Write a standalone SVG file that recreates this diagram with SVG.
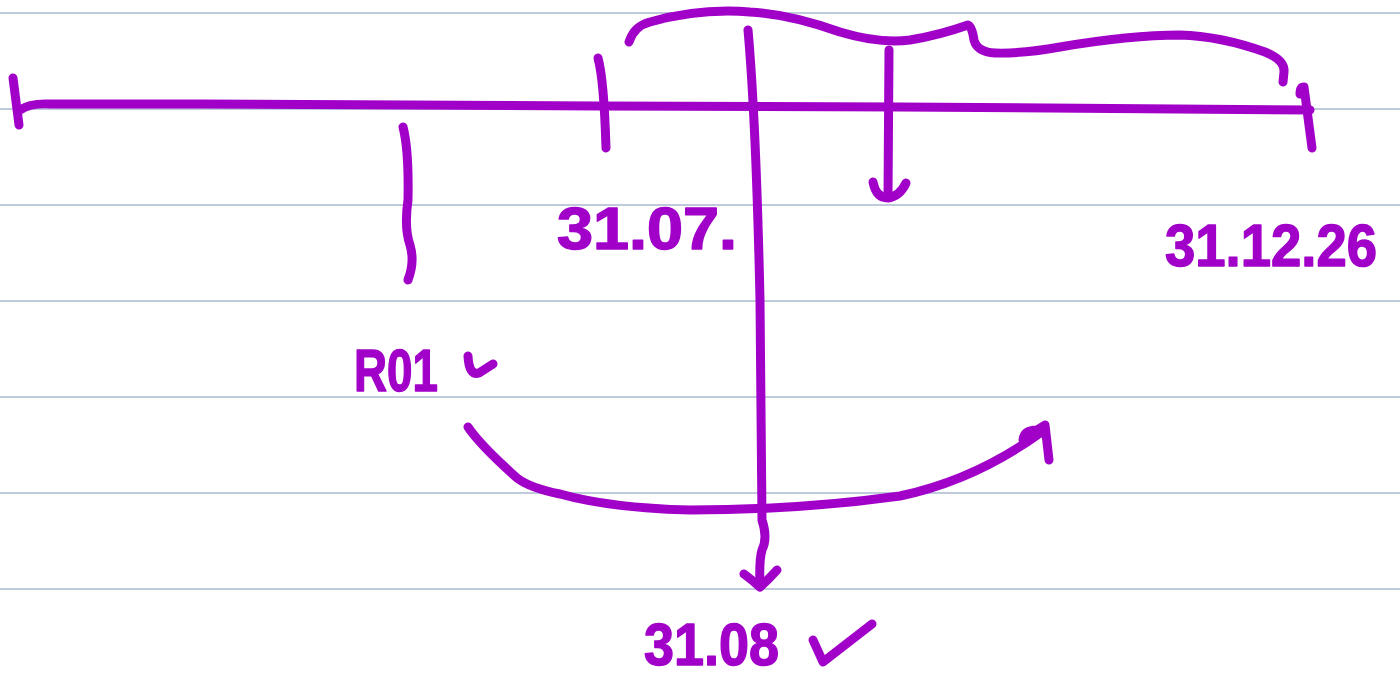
<svg xmlns="http://www.w3.org/2000/svg" width="1400" height="679" viewBox="0 0 1400 679">
  <style>
    .rule { stroke: #bfcadd; stroke-width: 2; }
    .ink { fill: none; stroke: #a100c8; stroke-width: 9; stroke-linecap: round; stroke-linejoin: round; }
    .hand { fill: #a100c8; stroke: #a100c8; stroke-width: 1.5; stroke-linejoin: round; font-family: "Liberation Sans", Arial, sans-serif; font-weight: bold; }
  </style>
  <rect width="1400" height="679" fill="#ffffff"/>

  <!-- ruled paper -->
  <g id="paper">
    <line class="rule" x1="0" y1="13" x2="1400" y2="13"/>
    <line class="rule" x1="0" y1="109" x2="1400" y2="109"/>
    <line class="rule" x1="0" y1="205" x2="1400" y2="205"/>
    <line class="rule" x1="0" y1="301" x2="1400" y2="301"/>
    <line class="rule" x1="0" y1="397" x2="1400" y2="397"/>
    <line class="rule" x1="0" y1="493" x2="1400" y2="493"/>
    <line class="rule" x1="0" y1="589" x2="1400" y2="589"/>
  </g>

  <!-- timeline and strokes -->
  <g id="connectors">
    <!-- main axis -->
    <path class="ink" d="M20,110 Q30,103 50,104 L200,104 L600,106 L900,107 L1310,110"/>
    <!-- start tick -->
    <path class="ink" d="M13,78 L19,125"/>
    <!-- tick at 31.07 -->
    <path class="ink" d="M598,58 Q604,80 606,148"/>
    <!-- end tick -->
    <path class="ink" d="M1300,94 Q1300,87 1304,87 L1312,148"/>
    <!-- brace over the second half -->
    <path class="ink" d="M629,42 Q634,26 650,22 Q700,8 750,12 Q790,14 840,32 Q880,44 910,40 Q940,35 968,25 Q972,26 974,40 Q977,52 995,53 Q1020,54 1060,47 Q1130,35 1180,35 Q1220,36 1265,52 Q1285,60 1284,72 L1283,82"/>
    <!-- squiggle under the axis -->
    <path class="ink" d="M403,127 Q409,150 408,200 Q404,228 410,245 Q415,262 408,280"/>
    <!-- long vertical arrow down to 31.08 -->
    <path class="ink" d="M748,30 Q756,120 760,300 L762,520 Q768,538 762,550 Q759,560 760,585"/>
    <path class="ink" d="M744,574 Q752,580 760,587 Q768,580 777,570"/>
    <!-- short arrow down -->
    <path class="ink" d="M889,50 L888,196"/>
    <path class="ink" d="M873,182 Q876,198 888,198 Q900,196 906,183"/>
    <!-- curved arrow from R01 -->
    <path class="ink" d="M468,427 Q480,445 517,478 Q530,488 560,494 Q610,508 690,510 Q800,510 900,496 Q975,480 1040,433"/>
    <path class="ink" d="M1023,440 Q1024,430 1037,430 L1045,425 L1049,460"/>
  </g>

  <!-- labels -->
  <g id="label-3107">
    <text class="hand" x="557" y="249" font-size="60" textLength="180" lengthAdjust="spacingAndGlyphs">31.07.</text>
  </g>
  <g id="label-311226">
    <text class="hand" x="1165" y="266" font-size="60" textLength="212" lengthAdjust="spacingAndGlyphs">31.12.26</text>
  </g>
  <g id="label-r01">
    <text class="hand" x="354" y="391" font-size="60" textLength="84" lengthAdjust="spacingAndGlyphs">R01</text>
    <path class="ink" d="M468,356 Q469,376 479,373 L493,364"/>
  </g>
  <g id="label-3108">
    <text class="hand" x="644" y="665" font-size="60" textLength="135" lengthAdjust="spacingAndGlyphs">31.08</text>
    <path class="ink" d="M813,640 L823,662 L872,624"/>
  </g>
</svg>
